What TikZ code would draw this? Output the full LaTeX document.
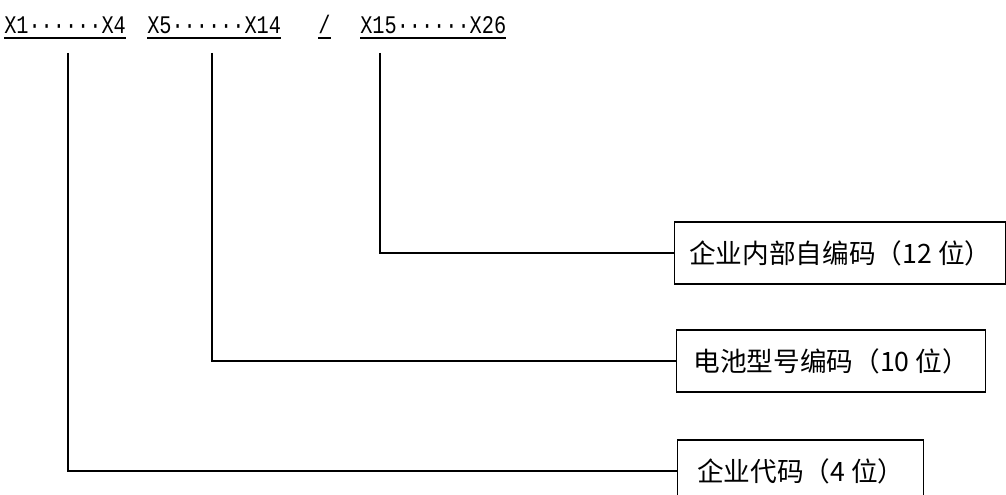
\documentclass[tikz,border=0pt]{standalone}
\usepackage{fontspec}
\setmainfont{Noto Sans CJK SC}
\newfontfamily\codefamily[FakeStretch=0.8]{Liberation Mono}
\newcommand{\lblfont}{\codefamily\fontsize{19pt}{22pt}\selectfont}
\newcommand{\boxfont}{\fontsize{20pt}{24pt}\selectfont}
\usepackage{tikz}
\usetikzlibrary{positioning}

\begin{document}
\begin{tikzpicture}[x=7.5pt,y=7.5pt]
\tikzstyle{every node}+=[inner sep=0pt]
\tikzstyle{codelbl}=[anchor=base west,font=\lblfont]
\tikzstyle{codebox}=[draw=black,line width=1.1pt,minimum height=46.5pt,anchor=west,font=\boxfont]
\tikzstyle{link}=[black,line width=1.1pt]
\tikzstyle{uline}=[black,line width=0.8pt]
\useasboundingbox (0,0) rectangle (100.6,-49.5);
% code segments
\node [codelbl] (seg1) at (0.4,-3.4) {X1······X4};
\node [codelbl] (seg2) at (14.7,-3.4) {X5······X14};
\node [codelbl] (sep) at (31.8,-3.4) {/\ };
\node [codelbl] (seg3) at (36.0,-3.4) {X15······X26};
\draw [uline] ([yshift=-3pt]seg1.base west) -- ([yshift=-3pt]seg1.base east);
\draw [uline] ([yshift=-3pt]seg2.base west) -- ([yshift=-3pt]seg2.base east);
\draw [uline] ([yshift=-3pt]sep.base west) -- ([yshift=-3pt]sep.base east);
\draw [uline] ([yshift=-3pt]seg3.base west) -- ([yshift=-3pt]seg3.base east);
% meaning boxes
\node [codebox,minimum width=248.25pt] (own) at (67.4,-25.3) {企业内部自编码（12 位）};
\node [codebox,minimum width=231.75pt] (model) at (67.6,-36.1) {电池型号编码（10 位）};
\node [codebox,minimum width=184.5pt] (firm) at (67.7,-47.1) {企业代码（4 位）};
% leaders
\coordinate (tap1) at (6.8,-5.3);
\coordinate (tap2) at (21.2,-5.3);
\coordinate (tap3) at (38.0,-5.3);
\draw [link] (tap3) |- (own.west);
\draw [link] (tap2) |- (model.west);
\draw [link] (tap1) |- (firm.west);
\end{tikzpicture}
\end{document}
